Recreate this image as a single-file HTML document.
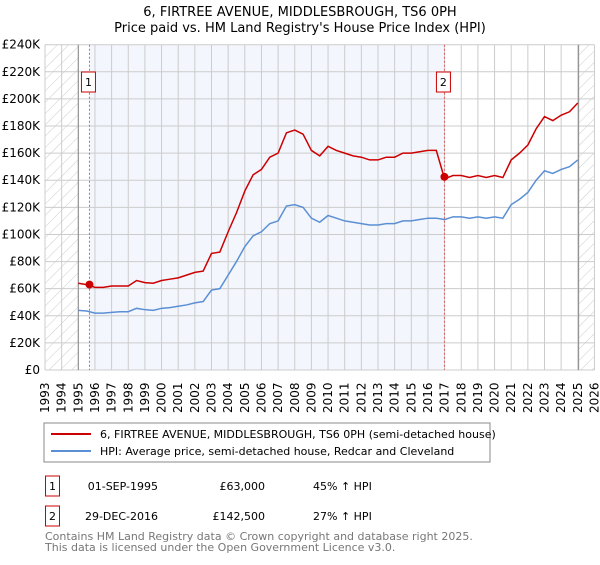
<!DOCTYPE html>
<html><head><meta charset="utf-8"><style>
body{margin:0;background:#fff;font-family:"Liberation Sans","DejaVu Sans",sans-serif;}
svg text{font-family:"DejaVu Sans","Liberation Sans",sans-serif;}
</style></head><body>
<svg id="c" width="600" height="560" xmlns="http://www.w3.org/2000/svg">
<defs><pattern id="hatch" width="8" height="8" patternUnits="userSpaceOnUse" patternTransform="rotate(45)"><line x1="0" y1="0" x2="0" y2="8" stroke="#ccc" stroke-width="1"/></pattern></defs>
<text x="300" y="16" text-anchor="middle" font-size="13">6, FIRTREE AVENUE, MIDDLESBROUGH, TS6 0PH</text>
<text x="300" y="32" text-anchor="middle" font-size="13">Price paid vs. HM Land Registry's House Price Index (HPI)</text>
<g id="plot"></g>
<rect x="44" y="423" width="446" height="39" fill="#fff" stroke="#888"/>
<line x1="51" y1="434" x2="91" y2="434" stroke="#cc0000" stroke-width="2"/>
<text x="100" y="438" font-size="11">6, FIRTREE AVENUE, MIDDLESBROUGH, TS6 0PH (semi-detached house)</text>
<line x1="51" y1="451" x2="91" y2="451" stroke="#5b8fd4" stroke-width="2"/>
<text x="100" y="455" font-size="11">HPI: Average price, semi-detached house, Redcar and Cleveland</text>
<g>
<rect x="45.5" y="476" width="14" height="20" fill="#fff" stroke="#cc0000"/>
<text x="52.5" y="490" font-size="11" text-anchor="middle">1</text>
<text x="158" y="490" font-size="11" text-anchor="end">01-SEP-1995</text>
<text x="265" y="490" font-size="11" text-anchor="end">£63,000</text>
<text x="313" y="490" font-size="11">45% ↑ HPI</text></g>
<g>
<rect x="45.5" y="506" width="14" height="20" fill="#fff" stroke="#cc0000"/>
<text x="52.5" y="520" font-size="11" text-anchor="middle">2</text>
<text x="158" y="520" font-size="11" text-anchor="end">29-DEC-2016</text>
<text x="265" y="520" font-size="11" text-anchor="end">£142,500</text>
<text x="313" y="520" font-size="11">27% ↑ HPI</text></g>
<text x="45" y="540" font-size="11" fill="#777">Contains HM Land Registry data © Crown copyright and database right 2025.</text>
<text x="45" y="551" font-size="11" fill="#777">This data is licensed under the Open Government Licence v3.0.</text>
</svg>
<script>
const years=[];for(let y=1995;y<=2025.01;y+=0.5)years.push(y);
const hpiValues=[44,43.5,42,42,42.5,43,43,45.5,44.5,44,45.5,46,47,48,49.5,50.5,59,60,70,80,91,99,102,108,110,121,122,120,112,109,114,112,110,109,108,107,107,108,108,110,110,111,112,112,111,113,113,112,113,112,113,112,122,126,131,140,147,145,148,150,155];
const priceValues=[64,63,61,61,62,62,62,66,64.5,64,66,67,68,70,72,73,86,87,102,116,132,144,148,157,160,175,177,174,162,158,165,162,160,158,157,155,155,157,157,160,160,161,162,162,141,143.5,143.5,142,143.5,142,143.5,142,155,160,166,178,187,184,188,190.5,197];
const saleYears=[1995.67,2016.99];
const salePrices=[63,142.5];
const saleLabels=["1","2"];
const yTicks=[0,20,40,60,80,100,120,140,160,180,200,220,240];
const xTicks=[];for(let y=1993;y<=2026;y++)xTicks.push(y);
const X=y=>45+(y-1993)*16.65, Y=v=>370-v*325.3/240;
const NS="http://www.w3.org/2000/svg", g=document.getElementById('plot');
function mk(t,a){const e=document.createElementNS(NS,t);for(const k in a)e.setAttribute(k,a[k]);g.appendChild(e);return e;}
let e;
e=mk('rect',{x:X(1993),y:Y(240),width:X(2026)-X(1993),height:Y(0)-Y(240),fill:'#fff'});
e=mk('rect',{x:X(1993),y:Y(240),width:X(1995)-X(1993),height:Y(0)-Y(240),fill:'url(#hatch)'});


e=mk('rect',{x:X(2025.05),y:Y(240),width:X(2026)-X(2025.05),height:Y(0)-Y(240),fill:'url(#hatch)'});


e=mk('rect',{x:X(saleYears[0]),y:Y(240),width:X(saleYears[1])-X(saleYears[0]),height:Y(0)-Y(240),fill:'#f0f4fd',opacity:0.8});


yTicks.forEach(v=>{mk('line',{x1:X(1993),x2:X(2026),y1:Y(v),y2:Y(v),stroke:'#ccc'});
 e=mk('text',{x:40,y:Y(v)+4,'text-anchor':'end','font-size':12});e.textContent=v===0?'£0':'£'+v+'K';
 
 });
xTicks.forEach(y=>{mk('line',{x1:X(y),x2:X(y),y1:Y(240),y2:Y(0),stroke:'#ccc'});
 e=mk('text',{transform:`translate(${X(y)+4},413) rotate(-90)`,'font-size':12});e.textContent=y;
 
 });
mk('line',{x1:X(1995),x2:X(1995),y1:Y(240),y2:Y(0),stroke:'#888'});
mk('line',{x1:X(2025.05),x2:X(2025.05),y1:Y(240),y2:Y(0),stroke:'#888'});
saleYears.forEach((s,i)=>{mk('line',{x1:X(s),x2:X(s),y1:Y(240),y2:Y(0),stroke:'#e06060','stroke-dasharray':'2,2'});});
e=mk('polyline',{points:years.map((y,i)=>X(y)+','+Y(hpiValues[i])).join(' '),fill:'none',stroke:'#5b8fd4','stroke-width':1.5});


e=mk('polyline',{points:years.map((y,i)=>X(y)+','+Y(priceValues[i])).join(' '),fill:'none',stroke:'#cc0000','stroke-width':1.5});


saleYears.forEach((s,i)=>{
 e=mk('circle',{cx:X(s),cy:Y(salePrices[i]),r:4,fill:'#cc0000'});
 
 
 e=mk('rect',{x:X(s)-8,y:72,width:14,height:20,fill:'#fff',stroke:'#cc0000'});
 
 
 e=mk('text',{x:X(s)-1,y:86,'text-anchor':'middle','font-size':11});e.textContent=saleLabels[i];
});
</script>
</body></html>
